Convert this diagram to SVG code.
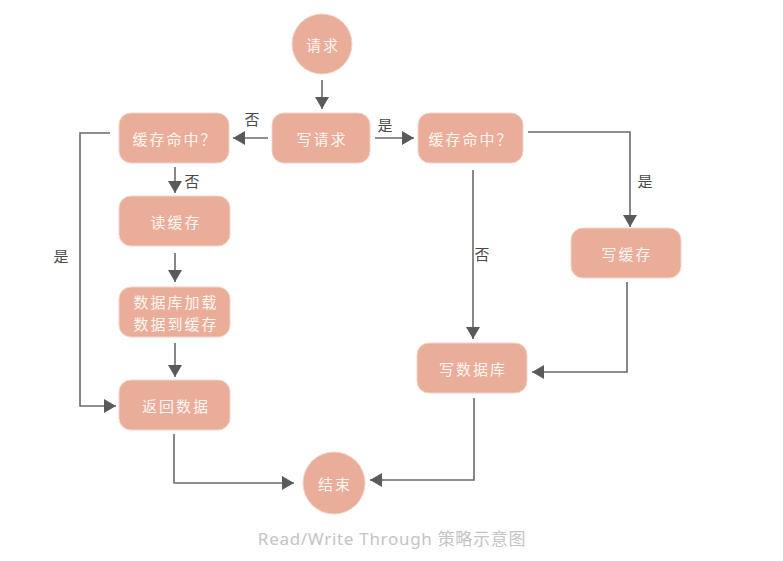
<svg xmlns="http://www.w3.org/2000/svg" width="783" height="561" viewBox="0 0 783 561">
<defs>
<marker id="ah" markerUnits="userSpaceOnUse" markerWidth="14" markerHeight="14" refX="12" refY="7" orient="auto">
<path d="M0,0 L12,7 L0,14 Z" fill="#5a5a5a"/>
</marker>
</defs>
<style>
.n{fill:#eaad9a;stroke:#f4d3c8;stroke-width:1}
.t{fill:#fff6f0;font-family:"Noto Sans CJK SC","Noto Sans",sans-serif;font-size:15px;text-anchor:middle;dominant-baseline:central;letter-spacing:2px}
.c{fill:none;stroke:#6a6a6a;stroke-width:1.6;marker-end:url(#ah)}
.l{fill:#4a4a4a;font-family:"Noto Sans CJK SC",sans-serif;font-size:15px;text-anchor:middle;dominant-baseline:central}
.cap{fill:#c4c4c4;font-family:"Noto Sans","Noto Sans CJK SC",sans-serif;font-size:17px;text-anchor:middle;dominant-baseline:central;letter-spacing:0.7px}
</style>
<rect width="783" height="561" fill="#fff"/>
<g id="connectors">
<path class="c" d="M322,80 V109"/>
<path class="c" d="M268,138 H233"/>
<path class="c" d="M375,138 H414"/>
<path class="c" d="M175,167 V193"/>
<path class="c" d="M175,253 V282"/>
<path class="c" d="M175,343 V377"/>
<path class="c" d="M110,133 H80 V406 H116"/>
<path class="c" d="M174,434 V483 H294"/>
<path class="c" d="M528,132 H630 V227"/>
<path class="c" d="M473,170 V339"/>
<path class="c" d="M627,282 V372 H532"/>
<path class="c" d="M474,398 V480 H370"/>
</g>
<g id="labels">
<text class="l" x="252" y="118">否</text>
<text class="l" x="385" y="124">是</text>
<text class="l" x="192" y="180">否</text>
<text class="l" x="61" y="255">是</text>
<text class="l" x="645" y="180">是</text>
<text class="l" x="482" y="253">否</text>
</g>
<g id="n-request"><circle class="n" cx="322" cy="44" r="30"/><text class="t" x="323" y="44">请求</text></g>
<g id="n-write"><rect class="n" x="272" y="113" width="98" height="50" rx="12"/><text class="t" x="322" y="138">写请求</text></g>
<g id="n-hit-left"><rect class="n" x="119" y="113" width="110" height="50" rx="12"/><text class="t" x="175" y="138">缓存命中？</text></g>
<g id="n-hit-right"><rect class="n" x="418" y="113" width="105" height="50" rx="12"/><text class="t" x="471" y="138">缓存命中？</text></g>
<g id="n-readcache"><rect class="n" x="119" y="196" width="111" height="50" rx="12"/><text class="t" x="176" y="221">读缓存</text></g>
<g id="n-load"><rect class="n" x="119" y="287" width="111" height="50" rx="12"/><text class="t" x="176" y="301">数据库加载</text><text class="t" x="176" y="323">数据到缓存</text></g>
<g id="n-return"><rect class="n" x="119" y="380" width="111" height="50" rx="12"/><text class="t" x="176" y="405">返回数据</text></g>
<g id="n-writecache"><rect class="n" x="571" y="228" width="110" height="50" rx="12"/><text class="t" x="627" y="253">写缓存</text></g>
<g id="n-writedb"><rect class="n" x="417" y="343" width="110" height="50" rx="12"/><text class="t" x="473" y="368">写数据库</text></g>
<g id="n-end"><circle class="n" cx="334" cy="483" r="31"/><text class="t" x="335" y="483">结束</text></g>
<text class="cap" x="392" y="538">Read/Write Through 策略示意图</text>
</svg>
